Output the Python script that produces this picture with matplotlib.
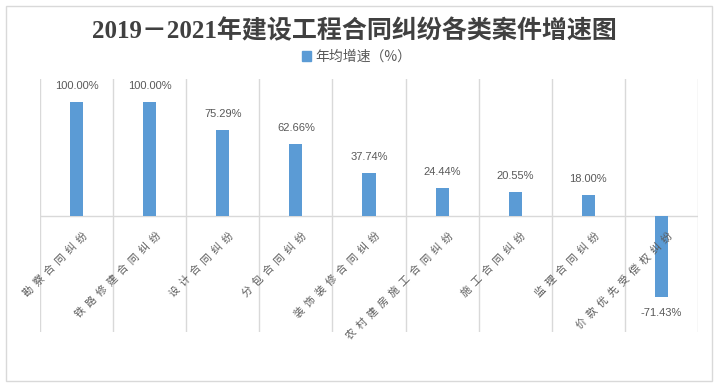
# -*- coding: utf-8 -*-
import matplotlib
matplotlib.use("Agg")
import matplotlib.pyplot as plt
from matplotlib.patches import Patch, Rectangle
import numpy as np

plt.rcParams['font.family'] = ['Noto Sans CJK SC', 'DejaVu Sans']

# data
categories = ["勘察合同纠纷", "铁路修建合同纠纷", "设计合同纠纷", "分包合同纠纷",
              "装饰装修合同纠纷", "农村建房施工合同纠纷", "施工合同纠纷",
              "监理合同纠纷", "价款优先受偿权纠纷"]
growth = [100.00, 100.00, 75.29, 62.66, 37.74, 24.44, 20.55, 18.00, -71.43]
series_name = "年均增速（%）"
title = "2019－2021年建设工程合同纠纷各类案件增速图"

W, H = 717, 388
fig = plt.figure(figsize=(W / 100, H / 100), dpi=100)
fig.patch.set_facecolor("white")

# outer chart border
fig.patches.append(Rectangle((6 / W, 1 - 381 / H), 706 / W, 375 / H,
                             transform=fig.transFigure, fill=False,
                             edgecolor="#d9d9d9", lw=1))

ax = fig.add_axes([40 / W, 1 - 332 / H, 658 / W, 253 / H])
x = np.arange(len(categories))
ax.bar(x, growth, width=0.18, color="#5b9bd5", zorder=3)

ax.set_xlim(-0.5, len(categories) - 0.5)
ax.set_ylim(-102, 120)
ax.set_xticks(np.arange(-0.5, len(categories)), minor=False)
ax.set_xticklabels([])
ax.tick_params(length=0)
ax.set_yticks([])
ax.grid(axis="x", color="#d9d9d9", lw=1)
for s in ax.spines.values():
    s.set_visible(False)
ax.axhline(0, color="#d9d9d9", lw=1, zorder=2)

# category labels, rotated, next to the zero line
for i, c in enumerate(categories):
    ax.annotate("  ".join(c), xy=(i, 0), xytext=(9, -18), textcoords="offset pixels",
                rotation=45, rotation_mode="anchor", ha="right", va="center",
                fontsize=7.5, color="#595959")

# value labels
for i, v in enumerate(growth):
    off = 16 if v >= 0 else -16
    ax.annotate("%.2f%%" % v, xy=(i, v), xytext=(0, off), textcoords="offset pixels",
                ha="center", va="center", fontsize=8, color="#595959",
                family=["Liberation Sans", "DejaVu Sans"])

fig.text(0.495, 1 - 31 / H, title, ha="center", va="center",
         fontsize=18, fontweight="bold", color="#404040",
         family=["Liberation Serif", "Noto Sans CJK SC"])

fig.legend(handles=[Patch(color="#5b9bd5", label=series_name)], loc="center",
           bbox_to_anchor=(0.497, 1 - 57 / H), frameon=False, fontsize=10,
           handlelength=0.65, handleheight=0.65, handletextpad=0.3,
           labelcolor="#595959")

fig.savefig("out.png", dpi=100)
